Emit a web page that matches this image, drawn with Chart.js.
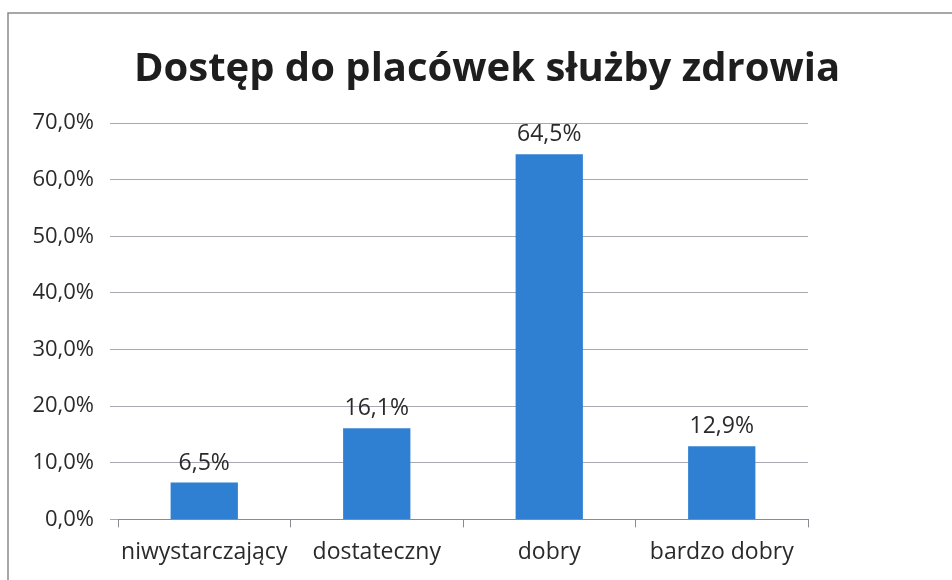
<!DOCTYPE html>
<html>
<head>
<meta charset="utf-8">
<script src="https://cdn.jsdelivr.net/npm/chart.js@4/dist/chart.umd.min.js"></script>
<style>
  html, body { margin: 0; padding: 0; background: #fff; }
  #box { width: 952px; height: 580px; }
</style>
</head>
<body>
<div id="box"><canvas id="wykres" width="952" height="580"></canvas></div>
<script>
// dane z wykresu
const kategorie = ['niwystarczający', 'dostateczny', 'dobry', 'bardzo dobry'];
const wartosci = [6.5, 16.1, 64.5, 12.9];
const tytul = 'Dostęp do placówek służby zdrowia';

function procent(v) {
    return v.toFixed(1).replace('.', ',') + '%';
}

// ramka jak na skanie (lewa i górna krawędź)
const ramka = {
    id: 'ramka',
    beforeDraw(chart) {
        const ctx = chart.ctx;
        ctx.save();
        ctx.strokeStyle = '#8a8a8a';
        ctx.lineWidth = 1.5;
        ctx.beginPath();
        ctx.moveTo(952, 13);
        ctx.lineTo(8, 13);
        ctx.lineTo(8, 580);
        ctx.stroke();
        ctx.restore();
    }
};

// etykiety wartości nad słupkami
const etykiety = {
    id: 'etykiety',
    afterDatasetsDraw(chart) {
        const ctx = chart.ctx;
        const meta = chart.getDatasetMeta(0);
        ctx.save();
        ctx.font = '23px "Open Sans", sans-serif';
        ctx.fillStyle = '#2a2a2a';
        ctx.textAlign = 'center';
        ctx.textBaseline = 'bottom';
        meta.data.forEach(function (bar, i) {
            ctx.fillText(procent(wartosci[i]), bar.x, bar.y - 8);
        });
        ctx.restore();
    }
};

new Chart(document.getElementById('wykres'), {
    type: 'bar',
    data: {
        labels: kategorie,
        datasets: [{
            data: wartosci,
            backgroundColor: '#2f80d2',
            borderWidth: 0,
            barPercentage: 0.39,
            categoryPercentage: 1.0
        }]
    },
    options: {
        responsive: false,
        animation: false,
        layout: { padding: { left: 22, right: 0, top: 0, bottom: 3 } },
        plugins: {
            legend: { display: false },
            tooltip: { enabled: false },
            title: {
                display: true,
                text: tytul,
                color: '#1e1e1e',
                font: { family: '"Open Sans", sans-serif', size: 40, weight: 'bold' },
                padding: { top: 46, bottom: 29 }
            }
        },
        scales: {
            y: {
                min: 0,
                max: 70,
                afterFit(scale) { scale.width = 96; },
                ticks: {
                    stepSize: 10,
                    padding: 16,
                    color: '#2a2a2a',
                    font: { family: '"Open Sans", sans-serif', size: 22 },
                    callback: function (v) { return procent(v); }
                },
                grid: { color: '#a8a8b0', lineWidth: 1, tickLength: 8 },
                border: { display: false }
            },
            // pusta oś po prawej, żeby zostawić wolne miejsce jak na oryginale
            prawa: {
                type: 'linear',
                position: 'right',
                afterFit(scale) { scale.width = 144; },
                ticks: { display: false },
                grid: { display: false },
                border: { display: false }
            },
            x: {
                ticks: {
                    padding: 11,
                    color: '#2a2a2a',
                    font: { family: '"Open Sans", sans-serif', size: 23 }
                },
                grid: { drawOnChartArea: false, drawTicks: true, tickLength: 8, color: '#8a8a95', offset: true },
                border: { display: true, color: '#8a8a95', width: 1 }
            }
        }
    },
    plugins: [ramka, etykiety]
});
</script>
</body>
</html>
